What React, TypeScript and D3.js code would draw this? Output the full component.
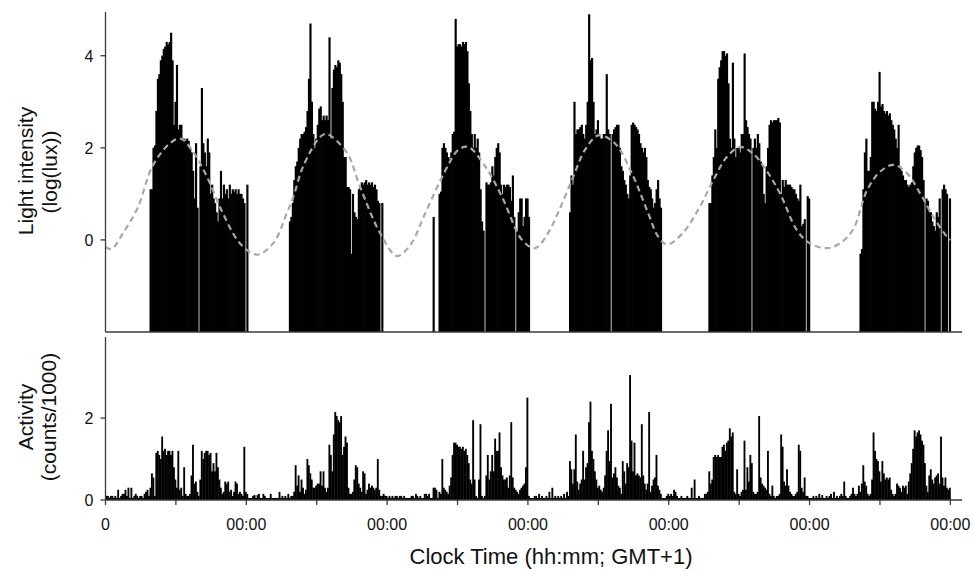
import * as d3 from "d3";

// light intensity, log(lux), one value per 15 min epoch, per wake period
const lightStartHours = [7.5, 31.25, 55.75, 79, 102.75, 128.5];

const lightDay1 = [
  1.1, 1.1, 2.0, 2.05, 2.8, 3.5, 3.6, 3.9, 4.0, 4.15, 4.2, 4.3, 4.25, 4.3, 4.5, 3.9, 2.5, 3.0, 3.8, 2.4,
  2.5, 2.5, 2.2, 2.2, 2.15, 2.2, 2.15, 2.0, 1.9, 1.5, 0.9, 2.1, 0.7, -2, 1.6, 3.3, 2.1, 1.9, 1.6, 2.2,
  1.9, 1.0, 1.2, 0.9, 0.8, 0.6, 0.4, 0.9, 1.5, 0.9, 1.2, 1.0, 1.1, 0.9, 1.2, 1.0, 1.1, 1.05, 1.1, 1.0,
  1.1, 1.0, 1.0, 0.9, 0.8, -2, 1.2,
];
const lightDay2 = [
  0.4, 0.5, 0.8, 1.3, 1.6, 1.7, 2.0, 2.2, 2.3, 2.3, 2.35, 2.45, 2.8, 3.5, 4.7, 3.0, 2.3, 2.0, 2.2, 2.5,
  2.85, 2.9, 2.6, 2.7, 2.6, 2.7, 2.6, 4.4, 2.2, 3.3, 3.7, 3.8, 3.75, 3.9, 3.85, 3.6, 3.0, 1.8, 1.8, 1.15,
  1.15, 1.1, -0.3, 1.0, 0.6, 0.5, 0.45, 1.1, 1.15, 1.25, 1.2, 1.25, 1.3, 1.2, 1.25, 1.2, 1.25, 1.15, 1.2, 1.1,
  0.85, 0.8, -2, 0.8,
];
const lightDay3 = [
  0.5, -2, -2, -2, 1.0, 1.05, 2.0, 2.1, 2.0, 1.9, 1.8, 1.75, 1.9, 2.3, 2.35, 4.8, 4.2, 4.25, 4.25, 4.2,
  4.3, 4.25, 4.3, 4.1, 3.4, 2.8, 2.3, 2.0, 2.3, 2.0, 2.2, 1.9, 1.1, 0.4, 0.2, -2, 1.25, 1.2, 1.2, 1.25,
  1.6, 1.4, 1.8, 2.0, 2.1, 1.9, 1.2, 1.0, 1.2, 1.15, 1.2, 1.2, 1.15, 0.85, 1.4, 0.5, -2, 0.2, 0.6, 0.9,
  0.9, 0.3, 0.5, 0.9, 0.9, 0.5,
];
const lightDay4 = [
  0.6, 1.4, 1.2, 3.0, 2.3, 2.4, 2.4, 2.45, 2.5, 2.3, 2.2, 2.5, 3.0, 4.9, 3.9, 3.95, 3.0, 2.3, 2.4, 2.6,
  2.3, 2.2, 2.2, 2.3, 2.3, 3.6, 2.4, 2.3, -2, 2.3, 2.4, 2.45, 2.5, 2.5, 2.0, 1.6, 1.5, 1.3, 1.2, 1.0,
  0.9, 1.4, 2.5, 2.55, 2.5, 2.45, 2.4, 2.3, 2.1, 2.0, 1.9, 2.0, 1.8, 1.3, 1.15, 1.1, 0.9, 0.7, 0.8, 1.1,
  1.3, 0.9, 0.7,
];
const lightDay5 = [
  0.8, 0.8, 1.4, 1.8, 2.4, 2.0, 3.5, 3.75, 3.9, 4.1, 4.1, 4.0, 4.05, 3.4, 2.2, 2.0, 3.85, 2.2, 1.8, 2.0,
  2.0, 1.9, 2.3, 2.3, 4.05, 2.6, 2.45, 2.3, 2.2, -2, 2.0, 2.2, 2.0, 2.3, 2.1, 1.7, 1.6, 1.0, 0.8, 1.6,
  2.0, 2.5, 2.6, 2.55, 2.6, 2.6, 2.6, 2.65, 2.55, 1.0, 1.3, 1.15, 1.3, 1.2, 1.2, 1.2, 1.15, 1.1, 1.1, 1.0,
  0.9, 0.85, 1.2, 0.3, 0.35, 0.45, -2, 0.95, 0.9,
];
const lightDay6 = [
  -0.3, -0.2, 1.1, 1.9, 2.2, 1.5, 1.5, 1.8, 3.0, 3.0, 2.85, 2.8, 3.0, 3.65, 2.9, 2.95, 2.8, 2.75, 2.8, 2.7,
  2.75, 2.6, 2.5, 2.4, 2.2, 2.0, 2.5, 1.6, 1.5, 1.4, 1.3, 1.3, 1.2, 1.15, 1.2, 1.25, 1.6, 1.9, 2.0, 2.05,
  2.05, 1.95, 1.8, 1.3, -2, 0.9, 0.85, 0.6, 0.6, 0.4, 0.3, 0.2, 0.6, 0.5, 0.9, -2, 1.1, 1.2, 1.1, 1.0,
  -2, 0.9,
];
const lightDays = [lightDay1, lightDay2, lightDay3, lightDay4, lightDay5, lightDay6];

// activity, counts/1000, one value per 15 min epoch, 96 per day
const activityDay1 = [
  0.1, 0.1, 0.05, 0.1, 0.1, 0.05, 0.1, 0.05, 0.25, 0.05, 0.1, 0.15, 0.15, 0.25, 0.1, 0.3, 0.05, 0.3, 0.05, 0.1,
  0.15, 0.1, 0.05, 0.1, 0.1, 0.05, 0.15, 0.2, 0.25, 0.1, 0.3, 0.65, 0.55, 0.1, 1.15, 1.2, 1.1, 1.0, 1.55, 1.2,
  1.25, 1.1, 1.2, 1.2, 1.1, 1.2, 0.8, 0.5, 0.3, 1.2, 0.25, 0.3, 0.1, 0.8, 0.15, 0.1, 0.1, 0.15, 0.6, 1.35,
  0.4, 0.45, 0.2, 0.1, 0.5, 1.2, 1.0, 1.15, 1.2, 1.2, 1.1, 1.15, 0.7, 0.9, 0.7, 1.15, 0.8, 0.5, 0.3, 0.15,
  0.2, 0.45, 0.4, 0.45, 0.2, 0.25, 0.1, 0.2, 0.45, 0.4, 0.15, 0.2, 0.15, 0.1, 1.3, 0.2,
];
const activityDay2 = [
  0.15, 0.05, 0.05, 0.05, 0.1, 0.12, 0.05, 0.12, 0.15, 0.05, 0.05, 0.15, 0.1, 0.05, 0.05, 0.05, 0.15, 0.05, 0.05, 0.05,
  0.05, 0.05, 0.2, 0.05, 0.1, 0.05, 0.1, 0.05, 0.15, 0.05, 0.1, 0.1, 0.2, 0.85, 0.35, 0.6, 0.2, 0.5, 0.3, 0.15,
  0.25, 1.0, 0.85, 0.65, 0.5, 0.3, 0.3, 0.35, 0.4, 0.4, 0.7, 0.35, 0.7, 0.3, 0.2, 0.3, 1.35, 1.1, 0.7, 1.6,
  2.15, 2.05, 1.95, 1.9, 2.05, 1.1, 1.3, 1.55, 1.4, 0.3, 0.15, 0.15, 0.2, 0.5, 0.85, 0.8, 0.4, 0.3, 0.2, 0.7,
  0.65, 0.15, 0.25, 0.4, 0.3, 0.35, 0.3, 0.25, 0.3, 1.0, 0.25, 0.1, 0.1, 0.15, 0.1, 0.1,
];
const activityDay3 = [
  0.05, 0.1, 0.05, 0.1, 0.05, 0.1, 0.1, 0.05, 0.1, 0.1, 0.05, 0.1, 0.05, 0.05, 0.05, 0.05, 0.1, 0.1, 0.05, 0.15,
  0.1, 0.05, 0.1, 0.05, 0.05, 0.15, 0.15, 0.1, 0.15, 0.05, 0.05, 0.3, 0.3, 0.25, 0.05, 0.2, 0.15, 1.0, 0.3, 0.25,
  0.2, 0.15, 0.35, 0.55, 1.1, 1.4, 1.4, 1.35, 1.3, 1.3, 1.25, 1.3, 1.2, 1.25, 1.1, 0.9, 0.5, 0.4, 1.95, 0.5,
  0.1, 0.05, 0.5, 1.85, 0.1, 0.05, 0.1, 0.6, 1.1, 0.5, 0.7, 1.1, 0.7, 1.5, 1.2, 1.2, 1.65, 0.8, 0.6, 0.5,
  0.5, 0.55, 0.3, 0.6, 1.9, 0.55, 0.3, 0.25, 0.2, 0.15, 0.25, 0.3, 0.35, 0.4, 0.8, 2.5,
];
const activityDay4 = [
  0.1, 0.05, 0.05, 0.05, 0.1, 0.1, 0.05, 0.15, 0.05, 0.1, 0.05, 0.05, 0.1, 0.05, 0.2, 0.05, 0.3, 0.05, 0.1, 0.05,
  0.1, 0.05, 0.1, 0.05, 0.15, 0.05, 0.2, 0.1, 0.95, 0.75, 0.4, 0.75, 1.6, 0.45, 0.25, 0.4, 0.5, 1.2, 0.5, 0.8,
  0.9, 1.9, 2.4, 1.2, 1.0, 0.7, 0.5, 0.3, 0.35, 0.25, 0.2, 0.3, 0.6, 1.2, 1.7, 0.95, 2.35, 0.55, 0.65, 0.8,
  0.55, 0.35, 0.3, 0.15, 0.95, 0.7, 0.4, 0.9, 0.8, 3.05, 1.45, 0.7, 1.4, 0.6, 0.65, 0.6, 0.55, 1.85, 0.6, 0.4,
  0.25, 0.4, 2.15, 0.2, 0.35, 0.5, 0.55, 1.1, 0.35, 0.25, 0.15, 0.05, 0.05, 0.05, 0.1, 0.15,
];
const activityDay5 = [
  0.1, 0.15, 0.1, 0.25, 0.2, 0.1, 0.05, 0.05, 0.1, 0.05, 0.05, 0.05, 0.1, 0.05, 0.05, 0.3, 0.05, 0.5, 0.05, 0.05,
  0.1, 0.05, 0.05, 0.05, 0.15, 0.15, 0.2, 0.7, 0.4, 0.5, 1.05, 1.1, 1.05, 1.1, 1.05, 1.05, 1.3, 1.35, 1.2, 1.4,
  1.45, 1.75, 1.55, 1.65, 0.2, 0.15, 0.75, 0.15, 0.1, 0.2, 0.25, 1.45, 0.25, 0.8, 0.45, 1.1, 0.9, 0.2, 0.15, 0.15,
  0.2, 2.05, 0.55, 0.4, 0.35, 0.3, 0.25, 1.2, 0.15, 0.1, 0.35, 0.1, 0.05, 0.1, 0.1, 0.15, 1.6, 1.3, 0.45, 0.35,
  0.75, 0.35, 0.2, 0.15, 0.1, 0.1, 0.15, 0.2, 1.35, 1.2, 0.3, 0.2, 0.55, 0.1, 0.1, 0.05,
];
const activityDay6 = [
  0.05, 0.05, 0.1, 0.05, 0.1, 0.05, 0.15, 0.05, 0.12, 0.05, 0.05, 0.1, 0.05, 0.1, 0.15, 0.05, 0.2, 0.05, 0.1, 0.05,
  0.1, 0.15, 0.1, 0.45, 0.1, 0.05, 0.05, 0.1, 0.15, 0.3, 0.15, 0.1, 0.15, 0.35, 0.2, 0.4, 0.85, 0.45, 0.35, 0.15,
  0.1, 0.15, 0.5, 1.65, 1.2, 1.0, 0.95, 0.7, 0.45, 0.95, 0.65, 0.5, 0.55, 0.5, 0.55, 0.25, 0.15, 0.1, 0.15, 0.4,
  0.35, 0.3, 0.2, 0.35, 0.3, 0.35, 0.15, 0.45, 0.65, 0.9, 1.25, 1.7, 1.55, 1.65, 1.7, 1.6, 1.45, 1.35, 0.9, 0.35,
  0.2, 0.6, 0.75, 0.5, 0.4, 0.55, 0.6, 0.65, 0.4, 1.55, 0.55, 0.35, 0.55, 0.3, 0.25, 0.3,
];
const activityDays = [activityDay1, activityDay2, activityDay3, activityDay4, activityDay5, activityDay6];

// dashed fitted light rhythm (hours since start, log(lux))
const rhythmHours = [
  0, 1, 3, 5.5, 8, 11, 12.8, 14.9, 17.3, 20, 22.9, 25.8, 28.6, 30.9, 32, 33.7, 36.6, 37.7, 41.1, 43.4,
  46.8, 49.7, 52, 54.5, 57.9, 60.1, 61.8, 64.7, 67.6, 71, 73.2, 75.2, 77.1, 79.5, 81.7, 84, 86.8, 89.7, 92.5, 94.2,
  95.7, 98.4, 101.3, 103.6, 105.9, 108.2, 110.4, 112.7, 115, 117.8, 120, 123, 125.2, 127.4, 129.8, 132, 134.3, 136.6, 138.9, 141.1,
  143.6, 144,
];
const rhythmValues = [
  -0.15, -0.2, 0.15, 0.7, 1.6, 2.1, 2.2, 1.92, 1.37, 0.58, -0.07, -0.32, -0.07, 0.58, 0.93, 1.6, 2.24, 2.3, 1.9, 1.15,
  0.15, -0.35, -0.1, 0.58, 1.5, 1.95, 2.02, 1.6, 0.93, 0.0, -0.18, 0.1, 0.58, 1.3, 1.95, 2.27, 2.1, 1.45, 0.58, 0.07,
  -0.1, 0.15, 0.72, 1.3, 1.8, 2.02, 1.87, 1.5, 1.0, 0.22, -0.07, -0.18, -0.07, 0.22, 1.08, 1.48, 1.63, 1.45, 1.0, 0.5,
  0.04, 0.0,
];

const lightTicks = [0, 2, 4];
const activityTicks = [0, 2];
const dayLabels = ["0", "00:00", "00:00", "00:00", "00:00", "00:00", "00:00"];

const epochHours = 0.25;
const font = "'Liberation Sans', Arial, Helvetica, sans-serif";
const axisColor = "#3a3a3a";

export default function App() {
  const width = 973;
  const height = 569;

  const x = d3.scaleLinear([0, 146], [105.5, 962.1]);
  const yLight = d3.scaleLinear([-2, 4.95], [332, 12]);
  const yAct = d3.scaleLinear([0, 3.98], [500, 337]);

  const lightBars = lightDays.flatMap((vals, d) =>
    vals.map((v, i) => ({ h: lightStartHours[d] + i * epochHours, v })),
  );
  const actBars = activityDays.flatMap((vals, d) =>
    vals.map((v, i) => ({ h: d * 24 + i * epochHours, v })),
  );

  const rhythmLine = d3
    .line<number>(
      (_, i) => x(rhythmHours[i]),
      (v) => yLight(v),
    )
    .curve(d3.curveCatmullRom);

  const halfDayTicks = d3.range(0, 145, 12);

  return (
    <svg
      width={width}
      height={height}
      style={{ position: "absolute", left: 0, top: 0, background: "#fff" }}
      fontFamily={font}
    >
      {/* light bars */}
      <g fill="#000">
        {lightBars
          .filter((b) => b.v > -2)
          .map((b, i) => (
            <rect
              key={i}
              x={x(b.h)}
              y={yLight(b.v)}
              width={x(b.h + epochHours) - x(b.h) + 0.7}
              height={yLight(-2) - yLight(b.v)}
            />
          ))}
      </g>
      <path
        d={rhythmLine(rhythmValues) ?? ""}
        fill="none"
        stroke="#a8a8a8"
        strokeWidth={2.2}
        strokeDasharray="6,4"
      />

      {/* light axes */}
      <g stroke={axisColor} strokeWidth={1.3} fill="none">
        <line x1={x(0)} x2={x(0)} y1={yLight.range()[1]} y2={yLight(-2)} />
        <line x1={x(0)} x2={x(146)} y1={yLight(-2)} y2={yLight(-2)} />
        {lightTicks.map((t) => (
          <line key={t} x1={x(0) - 5} x2={x(0)} y1={yLight(t)} y2={yLight(t)} />
        ))}
      </g>
      <g fontSize={16} fill="#111" textAnchor="end">
        {lightTicks.map((t) => (
          <text key={t} x={x(0) - 12} y={yLight(t)} dy="0.36em">
            {t}
          </text>
        ))}
      </g>
      <g fontSize={21} fill="#111" textAnchor="middle">
        <text transform="translate(26,171) rotate(-90)" dy="0.35em">
          Light intensity
        </text>
        <text transform="translate(50,172) rotate(-90)" dy="0.35em">
          (log(lux))
        </text>
      </g>

      {/* activity bars */}
      <g fill="#000">
        {actBars.map((b, i) => (
          <rect
            key={i}
            x={x(b.h)}
            y={yAct(b.v)}
            width={x(b.h + epochHours) - x(b.h) + 0.4}
            height={yAct(0) - yAct(b.v)}
          />
        ))}
      </g>

      {/* activity axes */}
      <g stroke={axisColor} strokeWidth={1.3} fill="none">
        <line x1={x(0)} x2={x(0)} y1={yAct.range()[1]} y2={yAct(0)} />
        <line x1={x(0)} x2={x(146)} y1={yAct(0)} y2={yAct(0)} />
        {activityTicks.map((t) => (
          <line key={t} x1={x(0) - 5} x2={x(0)} y1={yAct(t)} y2={yAct(t)} />
        ))}
        {halfDayTicks.map((h) => (
          <line key={h} x1={x(h)} x2={x(h)} y1={yAct(0)} y2={yAct(0) + 5} />
        ))}
      </g>
      <g fontSize={16} fill="#111" textAnchor="end">
        {activityTicks.map((t) => (
          <text key={t} x={x(0) - 12} y={yAct(t)} dy="0.36em">
            {t}
          </text>
        ))}
      </g>
      <g fontSize={16} fill="#111" textAnchor="middle">
        {dayLabels.map((label, d) => (
          <text key={d} x={x(d * 24)} y={524} dy="0.36em">
            {label}
          </text>
        ))}
      </g>
      <g fontSize={21} fill="#111" textAnchor="middle">
        <text transform="translate(26,417) rotate(-90)" dy="0.35em">
          Activity
        </text>
        <text transform="translate(49,417) rotate(-90)" dy="0.35em">
          (counts/1000)
        </text>
      </g>
      <text x={551} y={556} dy="0.36em" fontSize={22} fill="#111" textAnchor="middle">
        Clock Time (hh:mm; GMT+1)
      </text>
    </svg>
  );
}
